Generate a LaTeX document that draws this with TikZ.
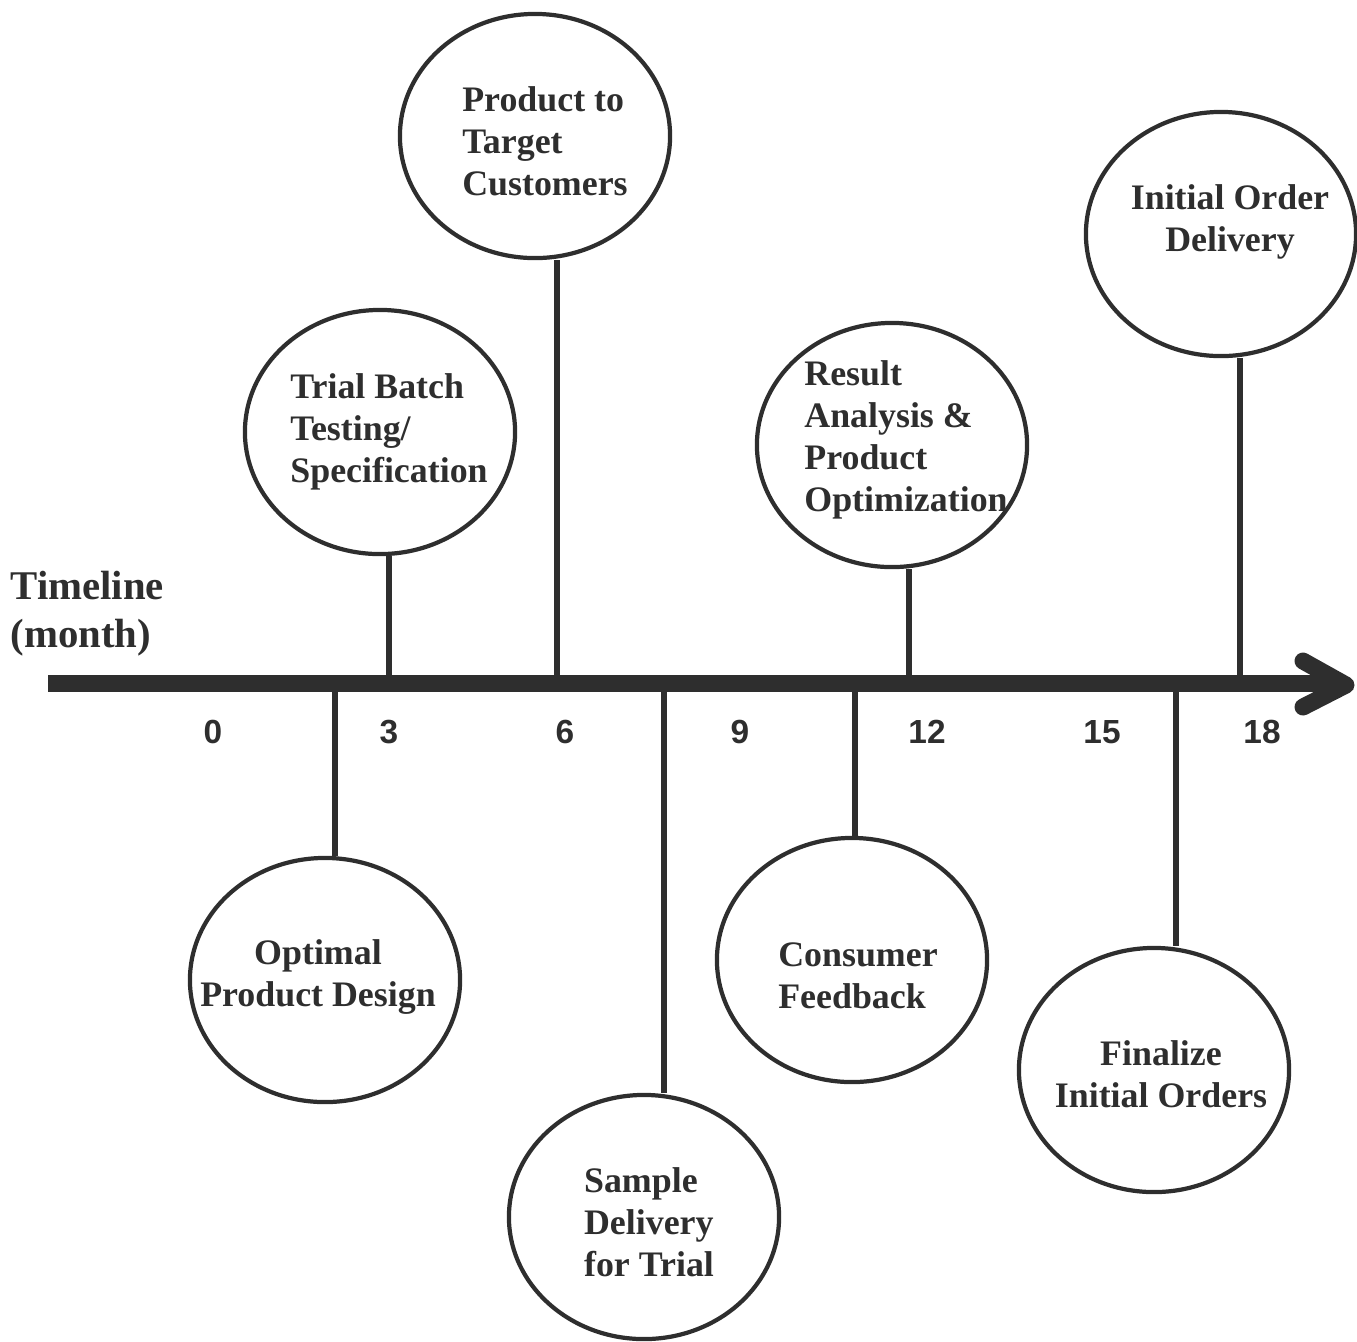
\documentclass[tikz,border=0pt]{standalone}
\usepackage{fontspec}
\setmainfont{Liberation Serif}
\newfontfamily\numfont{Liberation Sans}
\usetikzlibrary{shapes.geometric}
\definecolor{ink}{HTML}{2E2E2E}

\begin{document}
\begin{tikzpicture}[x=0.01cm,y=-0.01cm,
	bubble/.style={ellipse,draw=ink,line width=1.2pt,minimum width=2.7cm,minimum height=2.44cm,inner sep=0pt},
	lbl/.style={text=ink,font=\fontsize{10.2}{12}\selectfont\bfseries,align=left,inner sep=0pt},
	clbl/.style={lbl,align=center},
	num/.style={text=ink,font=\numfont\fontsize{9.5}{11}\selectfont\bfseries,inner sep=0pt},
	stem/.style={draw=ink,line width=1.5pt},
	bar/.style={draw=ink,line width=0.17cm}]
	\useasboundingbox (0,0) rectangle (1357,1341);

	% events above the line
	\draw[] (535,136) node[bubble] (target) {};
	\draw[] (380,432) node[bubble] (trial) {};
	\draw[] (892,445) node[bubble] (result) {};
	\draw[] (1221,234) node[bubble] (delivery) {};
	\node[lbl] (target-txt) at (545,141) {Product to\\Target\\Customers};
	\node[lbl] (trial-txt) at (389,432) {Trial Batch\\Testing/\\Specification};
	\node[lbl] (result-txt) at (906,440) {Result\\Analysis \&\\Product\\Optimization};
	\node[clbl] (delivery-txt) at (1230,222) {Initial Order\\Delivery};

	% events below the line
	\draw[] (325,980) node[bubble] (design) {};
	\draw[] (644,1217) node[bubble] (sample) {};
	\draw[] (852,960) node[bubble] (feedback) {};
	\draw[] (1154,1070) node[bubble] (orders) {};
	\node[clbl] (design-txt) at (318,977) {Optimal\\Product Design};
	\node[lbl] (sample-txt) at (649,1222) {Sample\\Delivery\\for Trial};
	\node[lbl] (feedback-txt) at (858,976) {Consumer\\Feedback};
	\node[clbl] (orders-txt) at (1161,1074) {Finalize\\Initial Orders};

	% where the stems meet the line
	\coordinate (up1) at (389,683);
	\coordinate (up2) at (557,683);
	\coordinate (up3) at (909,683);
	\coordinate (up4) at (1240,683);
	\coordinate (dn1) at (335,683);
	\coordinate (dn2) at (664,683);
	\coordinate (dn3) at (855,683);
	\coordinate (dn4) at (1176,683);

	\draw[stem] (trial.south -| up1) -- (up1);
	\draw[stem] (target.south -| up2) -- (up2);
	\draw[stem] (result.south -| up3) -- (up3);
	\draw[stem] (delivery.south -| up4) -- (up4);
	\draw[stem] (dn1) -- (design.north -| dn1);
	\draw[stem] (dn2) -- (sample.north -| dn2);
	\draw[stem] (dn3) -- (feedback.north -| dn3);
	\draw[stem] (dn4) -- (orders.north -| dn4);

	% the time axis
	\coordinate (start) at (48,683);
	\coordinate (end) at (1338,683);
	\coordinate (tip) at (1346,685);
	\draw[bar] (start) -- (end);
	\draw[bar,line cap=round,line join=round] (1303,661) -- (tip) -- (1303,707);

	\node[text=ink,font=\fontsize{11.6}{13.6}\selectfont\bfseries,align=left,anchor=west,inner sep=0pt] (axis-name) at (10,614) {Timeline\\(month)};
	\foreach \m/\x in {0/213,3/389,6/565,9/740,12/927,15/1102,18/1262}
		\node[num] (month\m) at (\x,732) {\m};
\end{tikzpicture}
\end{document}
